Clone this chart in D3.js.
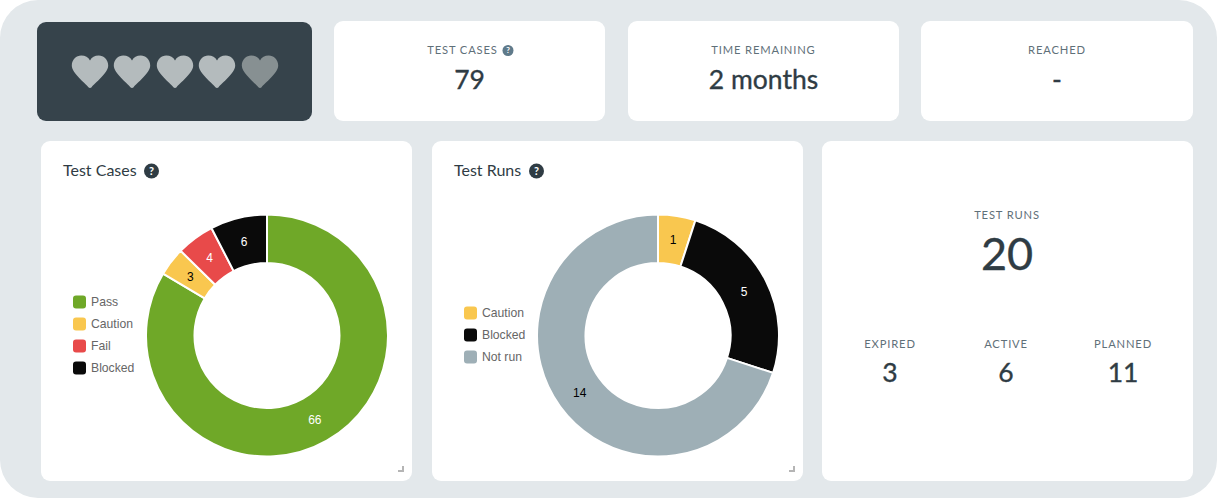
<!DOCTYPE html>
<html>
<head>
<meta charset="utf-8">
<script src="https://cdnjs.cloudflare.com/ajax/libs/d3/7.9.0/d3.min.js"></script>
<style>
html, body { margin: 0; padding: 0; background: #fff; overflow: hidden; }
svg { display: block; }
.ui { font-family: Lato, "Open Sans", sans-serif; }
.leg, .val { font-family: "Liberation Sans", Arial, sans-serif; }
</style>
</head>
<body>
<div id="chart"></div>
<script>
// values
const hearts = [1, 1, 1, 1, 0];
const heartX = [90, 132, 175, 217, 260];

const tiles = ["TEST CASES", "TIME REMAINING", "REACHED"];
const tileValues = ["79", "2 months", "-"];

const caseLabels = ["Pass", "Caution", "Fail", "Blocked"];
const caseValues = [66, 3, 4, 6];
const caseColors = ["#6fa828", "#f9c74f", "#e84a4a", "#0a0a0a"];

const runLabels = ["Caution", "Blocked", "Not run"];
const runValues = [1, 5, 14];
const runColors = ["#f9c74f", "#0a0a0a", "#9eafb6"];

const runStates = ["EXPIRED", "ACTIVE", "PLANNED"];
const runStateValues = [3, 6, 11];

const dark = "#2f3c44";
const muted = "#5f7079";

const svg = d3.select("#chart").append("svg").attr("width", 1217).attr("height", 498);

svg.append("rect").attr("width", 1217).attr("height", 498).attr("rx", 38).attr("fill", "#e3e8eb");

function card(x, y, w, h, fill) {
    svg.append("rect").attr("x", x).attr("y", y).attr("width", w).attr("height", h)
        .attr("rx", 9).attr("fill", fill || "#fff");
}

function label(x, y, txt, size, color, spacing) {
    return svg.append("text").attr("class", "ui").attr("x", x).attr("y", y)
        .attr("text-anchor", "middle").attr("font-size", size).attr("fill", color)
        .attr("letter-spacing", spacing || 0).text(txt);
}

// big numbers are a bit heavier than the regular weight
function bigNumber(x, y, txt, size) {
    label(x, y, txt, size, dark).attr("stroke", dark).attr("stroke-width", 0.35);
}

function helpIcon(x, y, r, color) {
    svg.append("circle").attr("cx", x).attr("cy", y).attr("r", r).attr("fill", color);
    svg.append("text").attr("class", "ui").attr("x", x).attr("y", y + r * 0.52)
        .attr("text-anchor", "middle").attr("font-size", r * 1.45).attr("font-weight", 700)
        .attr("fill", "#fff").text("?");
}

// hearts card
card(37, 22, 275, 99, "#36434b");
const heartPath = "M-1.6 15.2 C-5 11 -18.2 1 -18.2 -6.5 C-18.2 -12.5 -13.6 -16.5 -8.8 -16.5 "
    + "C-4.8 -16.5 -1.6 -14.6 0 -11.6 C1.6 -14.6 4.8 -16.5 8.8 -16.5 C13.6 -16.5 18.2 -12.5 18.2 -6.5 "
    + "C18.2 1 5 11 1.6 15.2 C0.8 16.3 -0.8 16.3 -1.6 15.2 Z";
svg.selectAll(".heart").data(hearts).join("path").attr("class", "heart")
    .attr("d", heartPath)
    .attr("transform", (d, i) => `translate(${heartX[i]},72)`)
    .attr("fill", d => d ? "#b4bbbd" : "#879092");

// top tiles
const tileX = [334, 628, 921];
const tileW = [271, 271, 272];
tiles.forEach((t, i) => {
    card(tileX[i], 21, tileW[i], 100);
    const cx = tileX[i] + tileW[i] / 2;
    label(i == 0 ? cx - 7 : cx, 54, t, 11.2, muted, 0.85);
    bigNumber(cx, 89, tileValues[i], 26.5);
});
helpIcon(508, 50.5, 5.5, "#5f7a8a");

// donut panels
const pie = d3.pie().sort(null);
const arc = d3.arc().innerRadius(72.5).outerRadius(121);

function donut(px, title, iconX, labels, values, colors, cx, legendY) {
    card(px, 141, 371, 340);

    svg.append("text").attr("class", "ui").attr("x", px + 22).attr("y", 176)
        .attr("font-size", 16).attr("fill", dark).text(title);
    helpIcon(iconX, 171, 7.5, dark);

    const g = svg.append("g").attr("transform", `translate(${cx},335.5)`);
    const slices = pie(values);
    g.selectAll("path").data(slices).join("path")
        .attr("d", arc)
        .attr("fill", (d, i) => colors[i])
        .attr("stroke", "#fff").attr("stroke-width", 2);
    g.selectAll("text").data(slices).join("text").attr("class", "val")
        .attr("transform", d => `translate(${arc.centroid(d)})`)
        .attr("text-anchor", "middle").attr("dy", "0.35em").attr("font-size", 12)
        .attr("fill", (d, i) => (colors[i] == "#f9c74f" || colors[i] == "#9eafb6") ? "#000" : "#fff")
        .text(d => d.value);

    const rows = svg.selectAll(null).data(labels).join("g")
        .attr("transform", (d, i) => `translate(${px + 32},${legendY + i * 22})`);
    rows.append("rect").attr("y", -6.5).attr("width", 13).attr("height", 13).attr("rx", 3)
        .attr("fill", (d, i) => colors[i]);
    rows.append("text").attr("class", "leg").attr("x", 18).attr("dy", "0.35em")
        .attr("font-size", 12.2).attr("fill", "#666").text(d => d);

    // resize handle
    svg.append("path").attr("d", `M${px + 357} ${472}h6v-6h-2v4h-4z`).attr("fill", "#b5b5b5");
}

donut(41, "Test Cases", 151.5, caseLabels, caseValues, caseColors, 267, 302);
donut(432, "Test Runs", 536.5, runLabels, runValues, runColors, 658, 313);

// test runs summary
card(822, 141, 371, 340);
label(1007, 219, "TEST RUNS", 11.2, muted, 0.85);
bigNumber(1007, 270, "20", 45);

const stateX = [890, 1006, 1123];
runStates.forEach((s, i) => {
    label(stateX[i], 348, s, 11.2, muted, 0.85);
    bigNumber(stateX[i], 382, runStateValues[i], 26.5);
});
</script>
</body>
</html>
